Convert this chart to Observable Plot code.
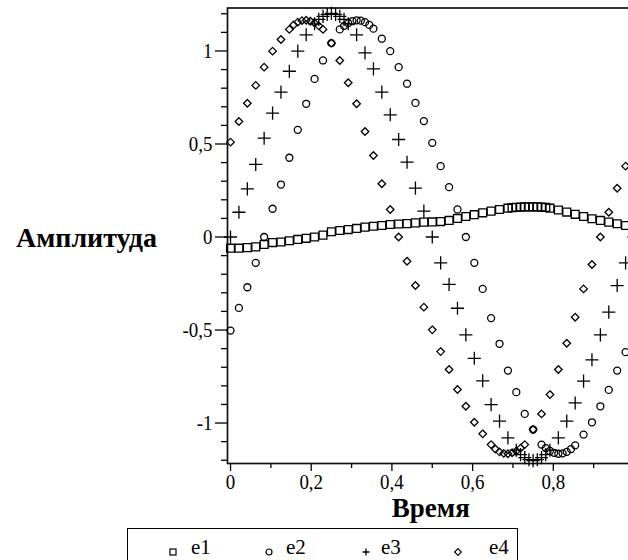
<!DOCTYPE html>
<html>
<head>
<meta charset="utf-8">
<script src="https://cdn.jsdelivr.net/npm/d3@7"></script>
<script src="https://cdn.jsdelivr.net/npm/@observablehq/plot@0.6"></script>
<style>
html, body { margin: 0; padding: 0; background: #fff; }
#wrap { position: relative; width: 628px; height: 560px; overflow: hidden; background: #fff; }
#chart { position: absolute; left: 0; top: 0; }
#legend { position: absolute; left: 127px; top: 528px; width: 391px; height: 44px; border: 1.5px solid #000; box-sizing: border-box; font-family: "Liberation Serif", serif; font-size: 21px; color: #000; }
#legend .sym { position: absolute; top: 10px; }
#legend .lab { position: absolute; top: 8px; line-height: 21px; }
</style>
</head>
<body>
<div id="wrap"><div id="chart"></div><div id="legend"></div></div>
<script>
// Sample times (Maple adaptive sampling: base grid plus extra points near the extrema)
const time = [0, 0.0208, 0.0417, 0.0625, 0.0833, 0.1042, 0.125, 0.1458, 0.1563, 0.1667,
  0.1771, 0.1875, 0.1979, 0.2083, 0.2188, 0.2292, 0.2396, 0.25, 0.2604, 0.2708,
  0.2813, 0.2917, 0.3021, 0.3125, 0.3229, 0.3333, 0.3438, 0.3542, 0.375, 0.3958,
  0.4167, 0.4375, 0.4583, 0.4792, 0.5, 0.5208, 0.5417, 0.5625, 0.5833, 0.6042,
  0.625, 0.6354, 0.6458, 0.6563, 0.6667, 0.6771, 0.6875, 0.6979, 0.7083, 0.7188,
  0.7292, 0.7396, 0.75, 0.7604, 0.7708, 0.7813, 0.7917, 0.8021, 0.8125, 0.8229,
  0.8333, 0.8438, 0.8542, 0.875, 0.8958, 0.9167, 0.9375, 0.9583, 0.9792, 1];

const e1 = [-0.06, -0.06, -0.057, -0.053, -0.04, -0.03, -0.027, -0.02, null, -0.013,
  null, -0.007, null, 0, null, 0.01, null, 0.028, null, 0.035,
  null, 0.04, null, 0.046, null, 0.053, null, 0.058, 0.062, 0.067,
  0.07, 0.072, 0.076, 0.08, 0.081, 0.083, 0.089, 0.1, 0.11, 0.12,
  0.13, null, 0.139, null, 0.148, null, 0.155, 0.158, 0.16, 0.161,
  0.162, 0.162, 0.162, 0.162, 0.161, 0.159, 0.155, null, 0.145, null,
  0.134, null, 0.122, 0.11, 0.098, 0.089, 0.08, 0.071, 0.062, 0.055];

const e2 = [-0.503, -0.381, -0.27, -0.139, 0, 0.152, 0.282, 0.426, null, 0.576,
  null, 0.716, null, 0.85, null, 0.949, null, 1.042, null, 1.116,
  1.135, 1.15, 1.16, 1.165, 1.163, 1.155, 1.14, 1.12, 1.066, 0.999,
  0.913, 0.824, 0.721, 0.623, 0.506, 0.381, 0.268, 0.148, 0, -0.139,
  -0.279, null, -0.436, null, -0.574, null, -0.718, null, -0.834, null,
  -0.951, null, -1.035, null, -1.116, -1.135, -1.15, -1.16, -1.165, -1.163,
  -1.155, -1.14, -1.12, -1.062, -0.996, -0.91, -0.822, -0.718, -0.619, -0.5];

const e3 = [0, 0.133, 0.259, 0.39, 0.531, 0.666, 0.779, 0.891, null, 0.999,
  null, 1.087, null, 1.146, 1.17, 1.186, 1.197, 1.202, 1.197, 1.186,
  1.17, 1.146, null, 1.087, null, 0.99, null, 0.904, 0.779, 0.657,
  0.524, 0.402, 0.263, 0.139, 0, -0.139, -0.255, -0.383, -0.526, -0.652,
  -0.773, null, -0.901, null, -0.99, null, -1.08, null, -1.146, -1.17,
  -1.186, -1.197, -1.202, -1.197, -1.186, -1.17, -1.146, null, -1.08, null,
  -0.99, null, -0.892, -0.775, -0.66, -0.526, -0.404, -0.261, -0.139, 0];

const e4 = [0.51, 0.621, 0.719, 0.815, 0.913, 0.999, 1.062, 1.116, 1.14, 1.155,
  1.163, 1.165, 1.16, 1.15, 1.135, 1.116, null, 1.042, null, 0.949,
  null, 0.829, null, 0.716, null, 0.567, null, 0.438, 0.286, 0.148,
  0, -0.13, -0.261, -0.377, -0.499, -0.616, -0.712, -0.82, -0.91, -0.996,
  -1.058, null, -1.116, -1.14, -1.155, -1.163, -1.165, -1.16, -1.15, -1.135,
  -1.116, null, -1.035, null, -0.951, null, -0.847, null, -0.712, null,
  -0.571, null, -0.431, -0.279, -0.148, 0, 0.133, 0.262, 0.381, 0.5];

const seriesNames = ["e1", "e2", "e3", "e4"];
const seriesSymbols = ["square2", "circle", "plus", "diamond2"];
const seriesRadius = [5, 3.5, 4.3, 3.4];

const yMajorTicks = [-1, -0.5, 0, 0.5, 1];
const yMinorTicks = [-1.2, -1.1, -0.9, -0.8, -0.7, -0.6, -0.4, -0.3, -0.2, -0.1,
  0.1, 0.2, 0.3, 0.4, 0.6, 0.7, 0.8, 0.9, 1.1, 1.2];
const xMajorTicks = [0, 0.2, 0.4, 0.6, 0.8, 1];
const xMinorTicks = [0.1, 0.3, 0.5, 0.7, 0.9];

const yLabel = "Амплитуда";
const xLabel = "Время";

const seriesValues = [e1, e2, e3, e4];
const rows = [];
seriesNames.forEach((name, s) => {
  time.forEach((t, i) => {
    const v = seriesValues[s][i];
    if (v != null) rows.push({t, v, series: name});
  });
});

const fmt = d => String(d).replace(".", ",");

const chart = Plot.plot({
  width: 640,
  height: 528,
  marginLeft: 227,
  marginRight: 6.5,
  marginTop: 7.5,
  marginBottom: 65,
  x: {domain: [-0.0075, 1], label: null},
  y: {domain: [-1.2175, 1.231], label: null},
  style: {fontFamily: "Liberation Serif, serif", fontSize: "22px", color: "#000", background: "#fff", maxWidth: "none", overflow: "visible"},
  marks: [
    Plot.axisY(yMinorTicks, {tickSize: 6, tickFormat: () => "", strokeWidth: 1.3}),
    Plot.axisY(yMajorTicks, {tickSize: 12, tickPadding: 3, tickFormat: fmt, strokeWidth: 1.3}),
    Plot.axisX(xMinorTicks, {tickSize: 5, tickFormat: () => "", strokeWidth: 1.3}),
    Plot.axisX(xMajorTicks, {tickSize: 8, tickPadding: 2, tickFormat: fmt, strokeWidth: 1.3}),
    Plot.frame({stroke: "#111", strokeWidth: 1.7}),
    ...seriesNames.map((name, s) => Plot.dot(rows.filter(d => d.series === name), {
      x: "t", y: "v", symbol: seriesSymbols[s], r: seriesRadius[s],
      fill: "none", stroke: "#000", strokeWidth: 1.3
    })),
    Plot.text([yLabel], {text: d => d, frameAnchor: "left", dx: -141, dy: 2, textAnchor: "middle",
      fontSize: 28, fontWeight: "bold", fontFamily: "Liberation Serif, serif", fill: "#000"}),
    Plot.text([xLabel], {text: d => d, frameAnchor: "bottom", dy: 53, textAnchor: "middle",
      fontSize: 27, fontWeight: "bold", fontFamily: "Liberation Serif, serif", fill: "#000"})
  ]
});
document.getElementById("chart").appendChild(chart);

// Narrow the tick-label glyphs a little, as in the reference's condensed face
chart.querySelectorAll('g[aria-label$="tick label"] text').forEach(el => {
  const tr = el.getAttribute("transform");
  if (tr) {
    el.setAttribute("transform", tr + " scale(0.86,1)");
  } else if (el.hasAttribute("x")) {
    const x = el.getAttribute("x");
    el.removeAttribute("x");
    el.setAttribute("transform", "translate(" + x + ",0) scale(0.86,1)");
  }
});

// Legend (below the chart)
const legend = document.getElementById("legend");
const legendSymX = [45, 141, 238, 330];
const legendLabX = [63, 158, 253, 361];
const symPaths = {
  square2: '<rect x="3" y="3" width="6" height="6" fill="none" stroke="#000" stroke-width="1.2"/>',
  circle: '<circle cx="6" cy="6" r="3" fill="none" stroke="#000" stroke-width="1.2"/>',
  plus: '<path d="M6 2.5V9.5M2.5 6H9.5" stroke="#000" stroke-width="1.3"/>',
  diamond2: '<path d="M6 2.6L9.4 6L6 9.4L2.6 6Z" fill="none" stroke="#000" stroke-width="1.1"/>'
};
seriesNames.forEach((name, s) => {
  const sym = document.createElement("div");
  sym.className = "sym";
  sym.style.left = (legendSymX[s] - 6) + "px";
  sym.innerHTML = '<svg width="12" height="12">' + symPaths[seriesSymbols[s]] + '</svg>';
  legend.appendChild(sym);
  const lab = document.createElement("div");
  lab.className = "lab";
  lab.style.left = legendLabX[s] + "px";
  lab.textContent = name;
  legend.appendChild(lab);
});
</script>
</body>
</html>
